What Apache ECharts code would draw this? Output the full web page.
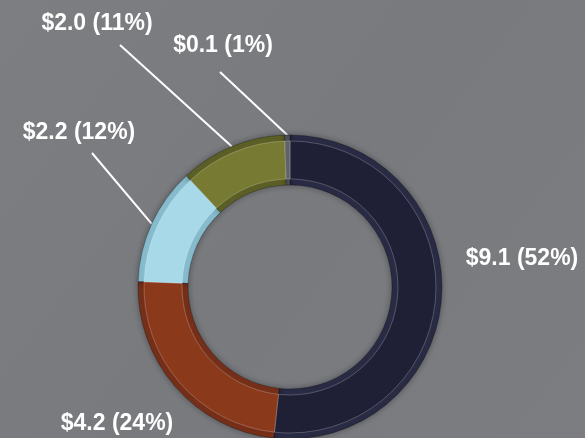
<!DOCTYPE html>
<html>
<head>
<meta charset="utf-8">
<script src="https://cdn.jsdelivr.net/npm/echarts@6/dist/echarts.min.js"></script>
<style>
  html, body { margin: 0; padding: 0; }
  #chart { width: 585px; height: 438px; }
</style>
</head>
<body>
<div id="chart"></div>
<script>
// values in $ (billions), clockwise from 12 o'clock
const categories = ['A', 'B', 'C', 'D', 'E'];
const amounts = [9.1, 4.2, 2.2, 2.0, 0.1];
const percents = [52, 24, 12, 11, 1];

const faceColors = ['#1f2036', '#8a3a1b', '#a8d9e8', '#777a33', '#5f6267'];
const edgeColors = ['#2a2b45', '#76301a', '#86bccd', '#5d6026', '#4c4f55'];

// where each label sits and where its pointer line stops (null = no line)
const labelSpots = [
  { x: 522, y: 259, line: null },
  { x: 117, y: 424, line: null },
  { x: 79, y: 133, line: [92, 153] },
  { x: 97, y: 24, line: [120, 45] },
  { x: 223, y: 46, line: [220, 72] }
];

const chart = echarts.init(document.getElementById('chart'));

const baseData = categories.map((c, i) => ({
  name: c,
  value: amounts[i],
  itemStyle: { color: edgeColors[i] },
  label: { show: true },
  labelLine: { show: labelSpots[i].line !== null }
}));

const faceData = categories.map((c, i) => ({
  name: c,
  value: amounts[i],
  itemStyle: { color: faceColors[i] }
}));

chart.setOption({
  backgroundColor: {
    type: 'linear', x: 0, y: 0, x2: 1, y2: 1,
    colorStops: [
      { offset: 0, color: '#7d7e82' },
      { offset: 0.5, color: '#797a7e' },
      { offset: 1, color: '#7c7d81' }
    ]
  },
  animation: false,
  series: [
    {
      type: 'pie',
      center: [290, 287],
      radius: [102, 152],
      startAngle: 90,
      clockwise: true,
      silent: true,
      itemStyle: {
        borderColor: 'rgba(0,0,0,0.25)',
        borderWidth: 1,
        shadowColor: 'rgba(0,0,0,0.35)',
        shadowBlur: 6
      },
      label: {
        position: 'outside',
        color: '#ffffff',
        fontFamily: 'Liberation Sans, Arial, sans-serif',
        fontWeight: 'bold',
        fontSize: 23,
        overflow: 'none',
        formatter: (p) => '$' + amounts[p.dataIndex].toFixed(1) + ' (' + percents[p.dataIndex] + '%)'
      },
      labelLine: {
        lineStyle: { color: '#ffffff', width: 2 }
      },
      labelLayout: (params) => {
        const spot = labelSpots[params.dataIndex];
        const out = { x: spot.x, y: spot.y, align: 'center', verticalAlign: 'middle', width: 200 };
        if (spot.line && params.labelLinePoints) {
          out.labelLinePoints = [params.labelLinePoints[0], spot.line];
        }
        return out;
      },
      data: baseData
    },
    {
      type: 'pie',
      center: [290, 287],
      radius: [108, 146],
      startAngle: 90,
      clockwise: true,
      silent: true,
      label: { show: false },
      labelLine: { show: false },
      itemStyle: {
        borderColor: 'rgba(255,255,255,0.22)',
        borderWidth: 1
      },
      data: faceData
    }
  ]
});
</script>
</body>
</html>
